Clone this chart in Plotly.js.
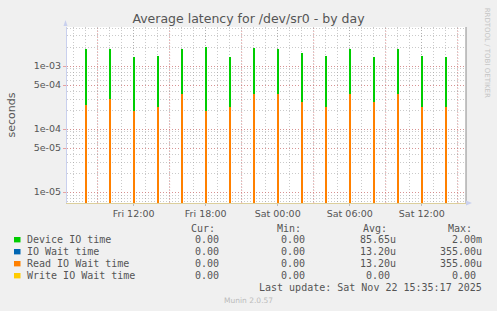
<!DOCTYPE html>
<html><head><meta charset="utf-8">
<script src="https://cdn.plot.ly/plotly-3.0.1.min.js"></script>
<style>html,body{margin:0;padding:0;background:#f0f0f0;}#chart{width:497px;height:311px;}</style>
</head><body><div id="chart"></div>
<script>
// ---- data ----
const spikeTimes = [
  '2025-11-21 08:00','2025-11-21 10:00','2025-11-21 12:00','2025-11-21 14:00',
  '2025-11-21 16:00','2025-11-21 18:00','2025-11-21 20:00','2025-11-21 22:00',
  '2025-11-22 00:00','2025-11-22 02:00','2025-11-22 04:00','2025-11-22 06:00',
  '2025-11-22 08:00','2025-11-22 10:00','2025-11-22 12:00','2025-11-22 14:00'];
const deviceIO   = [1.84e-3,1.84e-3,1.37e-3,1.44e-3,1.84e-3,2.00e-3,1.37e-3,1.90e-3,
                    1.84e-3,1.59e-3,1.44e-3,1.84e-3,1.37e-3,1.84e-3,1.44e-3,1.37e-3];
const ioWait     = [2.40e-4,2.96e-4,1.93e-4,2.26e-4,3.55e-4,1.95e-4,2.26e-4,3.55e-4,
                    3.55e-4,2.71e-4,2.26e-4,3.55e-4,2.71e-4,3.55e-4,2.26e-4,2.26e-4];
const readIOWait = [2.40e-4,2.96e-4,1.93e-4,2.26e-4,3.55e-4,1.95e-4,2.26e-4,3.55e-4,
                    3.55e-4,2.71e-4,2.26e-4,3.55e-4,2.71e-4,3.55e-4,2.26e-4,2.26e-4];
const writeIOWait = [0,0,0,0,0,0,0,0,0,0,0,0,0,0,0,0];

const xRange = ['2025-11-21 06:27','2025-11-22 15:41'];
const xTickVals = ['2025-11-21 12:00','2025-11-21 18:00','2025-11-22 00:00','2025-11-22 06:00','2025-11-22 12:00'];
const xTickText = ['Fri 12:00','Fri 18:00','Sat 00:00','Sat 06:00','Sat 12:00'];
const yTickVals = [1e-5,5e-5,1e-4,5e-4,1e-3];
const yTickText = ['1e-05','5e-05','1e-04','5e-04','1e-03'];

const seriesNames  = ['Device IO time','IO Wait time','Read IO Wait time','Write IO Wait time'];
const seriesColors = ['#00cc00','#0066b3','#ff8000','#ffcc00'];
const curText = ['0.00','0.00','0.00','0.00'];
const minText = ['0.00','0.00','0.00','0.00'];
const avgText = ['85.65u','13.20u','13.20u','0.00'];
const maxText = ['2.00m','355.00u','355.00u','0.00'];
const columnHeads = ['Cur:','Min:','Avg:','Max:'];
const lastUpdate = 'Last update: Sat Nov 22 15:35:17 2025';
const footer = 'Munin 2.0.57';
const sideText = 'RRDTOOL / TOBI OETIKER';
const titleText = 'Average latency for /dev/sr0 - by day';

// ---- layout geometry ----
const L = 67, T = 27, W = 399, H = 176;
const px = v => (v - L) / W;
const py = v => (T + H - v) / H;
const STEP = 300000; // one pixel = 5 minutes
const HOUR = 3600000;
const mono = 'DejaVu Sans Mono, monospace';
const sans = 'DejaVu Sans, sans-serif';
const txt = '#555';
const redGrid = 'rgba(225,110,110,0.6)';
const grayGrid = 'rgba(150,150,150,0.5)';
const dotted = '1px,2px';

const barCommon = {type:'bar', x: spikeTimes, hoverinfo:'skip', showlegend:false};
const traces = [
  Object.assign({}, barCommon, {name:seriesNames[0], y:deviceIO, marker:{color:seriesColors[0], line:{width:0}}, width:2.2*STEP, offset:-0.7*STEP}),
  Object.assign({}, barCommon, {name:seriesNames[1], y:ioWait, marker:{color:seriesColors[1], line:{width:0}}, width:1.6*STEP, offset:-0.6*STEP}),
  Object.assign({}, barCommon, {name:seriesNames[2], y:readIOWait, marker:{color:seriesColors[2], line:{width:0}}, width:1.6*STEP, offset:-0.6*STEP}),
  Object.assign({}, barCommon, {name:seriesNames[3], y:writeIOWait, marker:{color:seriesColors[3], line:{width:0}}, width:1.6*STEP, offset:-0.6*STEP})
];

const ann = [];
const addText = (text, x, y, anchor, size, color, font) => ann.push({
  text, xref:'paper', yref:'paper', x:px(x), y:py(y), xanchor:anchor, yanchor:'middle',
  showarrow:false, font:{family:font||mono, size:size||10, color:color||txt}, borderpad:0
});
const headX = [190, 276, 362, 447];
columnHeads.forEach((h,i) => addText(h, headX[i], 228.3, 'left'));
const rowY = [239.7, 251.7, 263.7, 275.7];
const pad = s => /[0-9]$/.test(s) ? s + '\u00a0' : s;
seriesNames.forEach((n,i) => {
  addText(n, 26, rowY[i], 'left');
  addText(curText[i], 219.5, rowY[i], 'right');
  addText(minText[i], 306, rowY[i], 'right');
  addText(pad(avgText[i]), 396.5, rowY[i], 'right');
  addText(pad(maxText[i]), 482.5, rowY[i], 'right');
});
addText(lastUpdate, 482.5, 287.3, 'right');
addText(footer, 248, 300, 'center', 7.5, '#bbb', sans);
ann.push({text:sideText, xref:'paper', yref:'paper', x:px(487.3), y:py(53), textangle:90,
  xanchor:'center', yanchor:'middle', showarrow:false, font:{family:sans, size:7, color:'#c4c4c4'}});

const shapes = seriesColors.map((c,i) => ({type:'rect', xref:'paper', yref:'paper',
  x0:px(14), x1:px(20.5), y0:py(rowY[i]+2.7), y1:py(rowY[i]-2.7), fillcolor:c, line:{width:0}}));
// major (6-hourly) vertical grid lines, generated from the axis range
{
  const start = new Date(xRange[0].replace(' ','T')+'Z').getTime();
  const end = new Date(xRange[1].replace(' ','T')+'Z').getTime();
  const first = new Date('2025-11-21T09:00Z').getTime();
  for (let t = first; t <= end; t += 6*HOUR) {
    if (t < start) continue;
    const s = new Date(t).toISOString().slice(0,16).replace('T',' ');
    shapes.push({type:'line', layer:'between', xref:'x', yref:'paper', x0:s, x1:s, y0:0, y1:1,
      line:{color:redGrid, width:1, dash:dotted}});
  }
}
shapes.push({type:'line', xref:'paper', yref:'paper', x0:1, x1:1, y0:0, y1:1, line:{color:'#8a8a8a', width:1}});
shapes.push({type:'path', xref:'paper', yref:'paper', fillcolor:'#c9d0ee', line:{width:0},
  path:`M ${px(63.5)} ${py(26)} L ${px(67.5)} ${py(26)} L ${px(65.5)} ${py(20)} Z`});
shapes.push({type:'path', xref:'paper', yref:'paper', fillcolor:'#c9d0ee', line:{width:0},
  path:`M ${px(466)} ${py(200.5)} L ${px(466)} ${py(205.5)} L ${px(472)} ${py(203)} Z`});

const layout = {
  width:497, height:311,
  margin:{l:L, r:497-L-W, t:T, b:311-T-H, pad:0},
  paper_bgcolor:'#f0f0f0', plot_bgcolor:'#ffffff',
  barmode:'overlay', bargap:0,
  showlegend:false,
  title:{text:titleText, xref:'container', x:0.5, xanchor:'center', yref:'container', y:1-19/311, yanchor:'middle',
    font:{family:sans, size:12.5, color:txt}},
  xaxis:{type:'date', range:xRange,
    tickmode:'array', tickvals:xTickVals, ticktext:xTickText,
    ticks:'outside', ticklen:2, tickcolor:'#bbb', tickfont:{family:sans, size:9.5, color:txt},
    showgrid:true, gridcolor:grayGrid, griddash:dotted, gridwidth:1,
    minor:{tick0:'2025-11-21 09:00', dtick:HOUR, showgrid:true, gridcolor:grayGrid, griddash:dotted, gridwidth:1},
    showline:true, linecolor:'#dccf9c', linewidth:1, zeroline:false, fixedrange:true},
  yaxis:{type:'log', range:[-5.172, -2.381], tickmode:'array', tickvals:yTickVals, ticktext:yTickText,
    showgrid:true, gridcolor:redGrid, griddash:dotted, gridwidth:1,
    minor:{dtick:'D1', showgrid:true, gridcolor:grayGrid, griddash:dotted, gridwidth:1},
    ticks:'outside', ticklen:3, tickcolor:redGrid, tickfont:{family:sans, size:9.5, color:txt},
    showline:true, linecolor:'#c9d0ee', linewidth:1, zeroline:false,
    title:{text:'seconds', standoff:15, font:{family:sans, size:11, color:txt}}},
  annotations:ann, shapes:shapes
};
Plotly.newPlot('chart', traces, layout, {staticPlot:true, displayModeBar:false});
</script></body></html>
